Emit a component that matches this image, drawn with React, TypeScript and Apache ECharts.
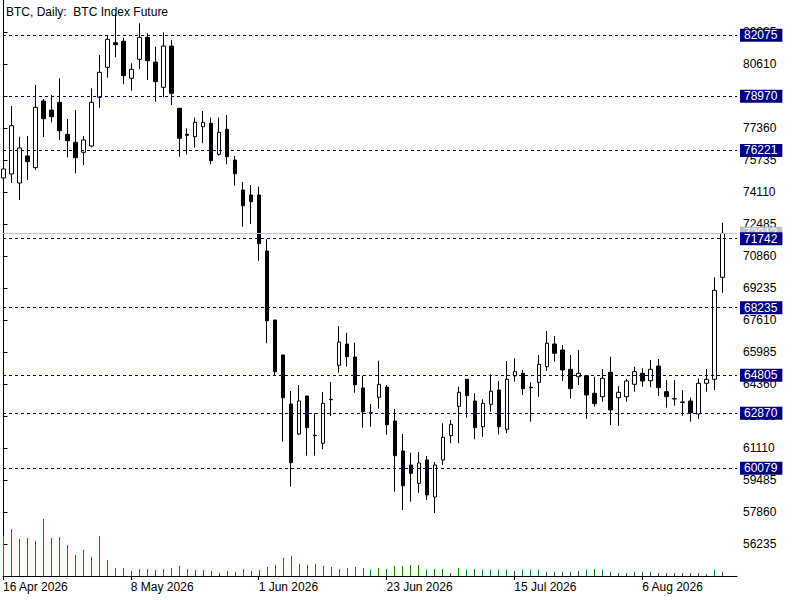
import React, { useEffect, useRef } from 'react';
import * as echarts from 'echarts';

const chartTitle = 'BTC, Daily:  BTC Index Future';
const tickLabels = ['16 Apr 2026', '8 May 2026', '1 Jun 2026', '23 Jun 2026', '15 Jul 2026', '6 Aug 2026'];
const barsPerLabel = 16;

const opens = [74821, 75024, 74567, 75938, 75344, 78731, 78274, 78665, 77040, 76634, 76126, 76446, 78919, 80442, 81692, 81763, 79884, 80849, 81966, 80712, 79427, 81524, 78361, 77040, 76918, 77426, 77599, 76025, 77294, 75735, 74212, 73958, 73958, 71114, 67610, 65833, 63344, 61821, 63751, 61755, 61349, 63583, 65310, 66391, 65731, 64157, 62903, 63685, 64208, 62482, 60958, 60247, 59317, 60501, 58622, 60501, 61735, 63228, 64599, 63497, 62192, 63329, 64055, 62060, 64767, 64903, 64193, 64447, 65239, 66391, 66087, 65107, 64731, 64782, 63888, 63715, 64954, 63664, 63715, 64345, 64903, 64528, 65274, 63969, 63614, 63446, 63497, 62837, 64396, 64599, 69779];
const closes = [75278, 77477, 76345, 75649, 78411, 77832, 77934, 77223, 76715, 75852, 76751, 78665, 80189, 81864, 81590, 80016, 80341, 81966, 80778, 79711, 81524, 79122, 76837, 76989, 77650, 77650, 75700, 77142, 75903, 75040, 73415, 73618, 71485, 67575, 64985, 63665, 60364, 63497, 62141, 61740, 63380, 63560, 66493, 65747, 64325, 62954, 62880, 64345, 62293, 60719, 59196, 59825, 60349, 58724, 60247, 61653, 62314, 63939, 63766, 62141, 63380, 63990, 62192, 64599, 64985, 64122, 64170, 65361, 66427, 65919, 65071, 64122, 64903, 63802, 63360, 64649, 63040, 63939, 64513, 64985, 64513, 65107, 64172, 63715, 63600, 63430, 62903, 64396, 64599, 69118, 72013];
const lows = [74466, 74567, 73704, 74720, 75227, 76903, 77650, 76751, 75872, 75060, 75481, 76380, 78391, 79914, 80950, 79579, 79254, 80356, 79798, 78696, 78919, 78528, 75903, 76025, 76360, 76583, 75517, 75954, 75517, 74430, 72348, 72485, 70621, 66427, 64817, 61430, 59145, 61770, 60719, 60719, 61044, 62735, 64934, 65239, 63919, 62141, 62192, 63106, 61786, 58891, 57962, 58383, 58840, 58470, 57810, 60247, 61349, 61349, 62649, 61552, 61684, 62954, 61806, 61857, 64477, 63802, 62446, 63715, 65021, 65493, 64513, 63614, 64309, 62598, 63208, 63461, 62278, 62227, 63461, 63969, 64223, 64193, 63751, 63157, 63258, 62750, 62446, 62583, 63969, 64055, 68996];
const highs = [75735, 78477, 76918, 76954, 79544, 78833, 79036, 79884, 77817, 78274, 76954, 79376, 81067, 82083, 83185, 81946, 80646, 82677, 82169, 81489, 82220, 81829, 78376, 77345, 77883, 78223, 77883, 77883, 78020, 75938, 74618, 74466, 74379, 71708, 67610, 65833, 64005, 64309, 63751, 62872, 63954, 64462, 67305, 66965, 66458, 64782, 63344, 65544, 64309, 63091, 61821, 60872, 60907, 60704, 60400, 62365, 62532, 64223, 64599, 63888, 63583, 64853, 64513, 65528, 65665, 65071, 64447, 65833, 67052, 66798, 66341, 65833, 66087, 64782, 64731, 65122, 65747, 64259, 64614, 65239, 65157, 65579, 65630, 64563, 64563, 64055, 63664, 64649, 65122, 69779, 72551];
const volumes = [4000, 4700, 3700, 3800, 3500, 5700, 3800, 3900, 3100, 2100, 2600, 1900, 4000, 1600, 800, 800, 500, 700, 700, 600, 700, 800, 1000, 700, 600, 600, 500, 300, 500, 400, 700, 500, 600, 900, 1100, 1800, 2000, 1200, 1100, 1200, 1000, 900, 700, 800, 900, 800, 600, 800, 700, 1000, 1000, 1100, 1100, 600, 700, 700, 300, 800, 600, 700, 600, 600, 600, 600, 500, 600, 600, 600, 400, 400, 400, 400, 500, 600, 700, 600, 400, 300, 300, 400, 400, 400, 300, 300, 300, 300, 300, 300, 200, 600, 400];
const levels = [82075, 78970, 76221, 71742, 68235, 64805, 62870, 60079];
const priceMin = 54610;
const priceMax = 83860;
const priceStep = 1625;
const volumeMax = 57600;

const FONT = 'Liberation Sans, Arial, sans-serif';

export default function App() {
  const ref = useRef<HTMLDivElement>(null);
  useEffect(() => {
    document.body.style.margin = '0';
    const chart = echarts.init(ref.current!, null, { renderer: 'svg' });
    const candleData = opens.map((o, i) => [i, o, closes[i], lows[i], highs[i]]);
    const volData = volumes.map((v, i) => [i, v]);
    const lastClose = closes[closes.length - 1];
    const navy = '#000080';
    chart.setOption({
      animation: false,
      backgroundColor: '#ffffff',
      title: {
        text: chartTitle,
        left: 6,
        top: 6,
        padding: 0,
        textStyle: { fontSize: 12, fontWeight: 'normal', color: '#000', fontFamily: FONT },
      },
      grid: { left: 2, right: 63, top: 0, bottom: 24, containLabel: false },
      xAxis: {
        type: 'value',
        min: -0.0625,
        max: 91.8125,
        interval: barsPerLabel,
        axisLine: { show: true, lineStyle: { color: '#000', width: 1 } },
        axisTick: { show: true, length: 4, lineStyle: { color: '#000' } },
        splitLine: { show: false },
        axisLabel: {
          showMinLabel: true,
          showMaxLabel: false,
          align: 'left',
          margin: 5,
          color: '#000',
          fontSize: 12,
          fontFamily: FONT,
          formatter: (v: number) => tickLabels[Math.round(v / barsPerLabel)] ?? '',
        },
      },
      yAxis: [
        {
          type: 'value',
          position: 'right',
          min: priceMin,
          max: priceMax,
          interval: priceStep,
          scale: true,
          axisLine: { show: true, lineStyle: { color: '#000', width: 1 } },
          axisTick: { show: true, length: 4, lineStyle: { color: '#000' } },
          splitLine: { show: false },
          axisLabel: {
            showMinLabel: false,
            showMaxLabel: false,
            margin: 6,
            color: '#000',
            fontSize: 12,
            fontFamily: FONT,
            formatter: (v: number) => String(Math.round(v)),
          },
        },
        {
          type: 'value',
          position: 'left',
          min: 0,
          max: volumeMax,
          axisLine: { show: true, onZero: false, lineStyle: { color: '#000', width: 1 } },
          axisTick: { show: false },
          axisLabel: { show: false },
          splitLine: { show: false },
        },
      ],
      series: [
        {
          type: 'custom',
          yAxisIndex: 1,
          data: volData,
          encode: { x: 0, y: 1 },
          silent: true,
          clip: false,
          renderItem: (params: any, api: any) => {
            const i = api.value(0);
            const top = api.coord([i, api.value(1)]);
            const base = api.coord([i, 0]);
            const yTop = Math.round(top[1]);
            const yBase = Math.round(base[1]);
            return {
              type: 'rect',
              shape: { x: Math.floor(top[0]), y: yTop, width: 1, height: yBase - yTop },
              style: { fill: '#008000', stroke: null, lineWidth: 0 },
            };
          },
        },
        {
          type: 'candlestick',
          yAxisIndex: 0,
          data: candleData,
          encode: { x: 0, y: [1, 2, 3, 4] },
          barWidth: 4,
          clip: false,
          itemStyle: {
            color: '#ffffff',
            color0: '#000000',
            borderColor: '#000000',
            borderColor0: '#000000',
            borderColorDoji: '#000000',
            borderWidth: 1,
          },
          markLine: {
            silent: true,
            symbol: ['none', 'none'],
            lineStyle: { color: navy, type: [3, 3], width: 1 },
            label: {
              show: true,
              position: 'end',
              distance: 3,
              color: '#ffffff',
              backgroundColor: navy,
              fontSize: 12,
              fontFamily: FONT,
              padding: [0, 5, 0, 4],
              lineHeight: 13,
              formatter: (p: any) => String(Math.round(p.value)),
            },
            data: [
              {
                yAxis: lastClose,
                lineStyle: { color: '#c0c0c0', type: 'solid', width: 1 },
                label: { backgroundColor: '#c0c0c0', color: '#ffffff' },
              },
              ...levels.map((v) => ({ yAxis: v })),
            ],
          },
        },
      ],
    });
    return () => chart.dispose();
  }, []);
  return <div ref={ref} style={{ width: 800, height: 600 }} />;
}
